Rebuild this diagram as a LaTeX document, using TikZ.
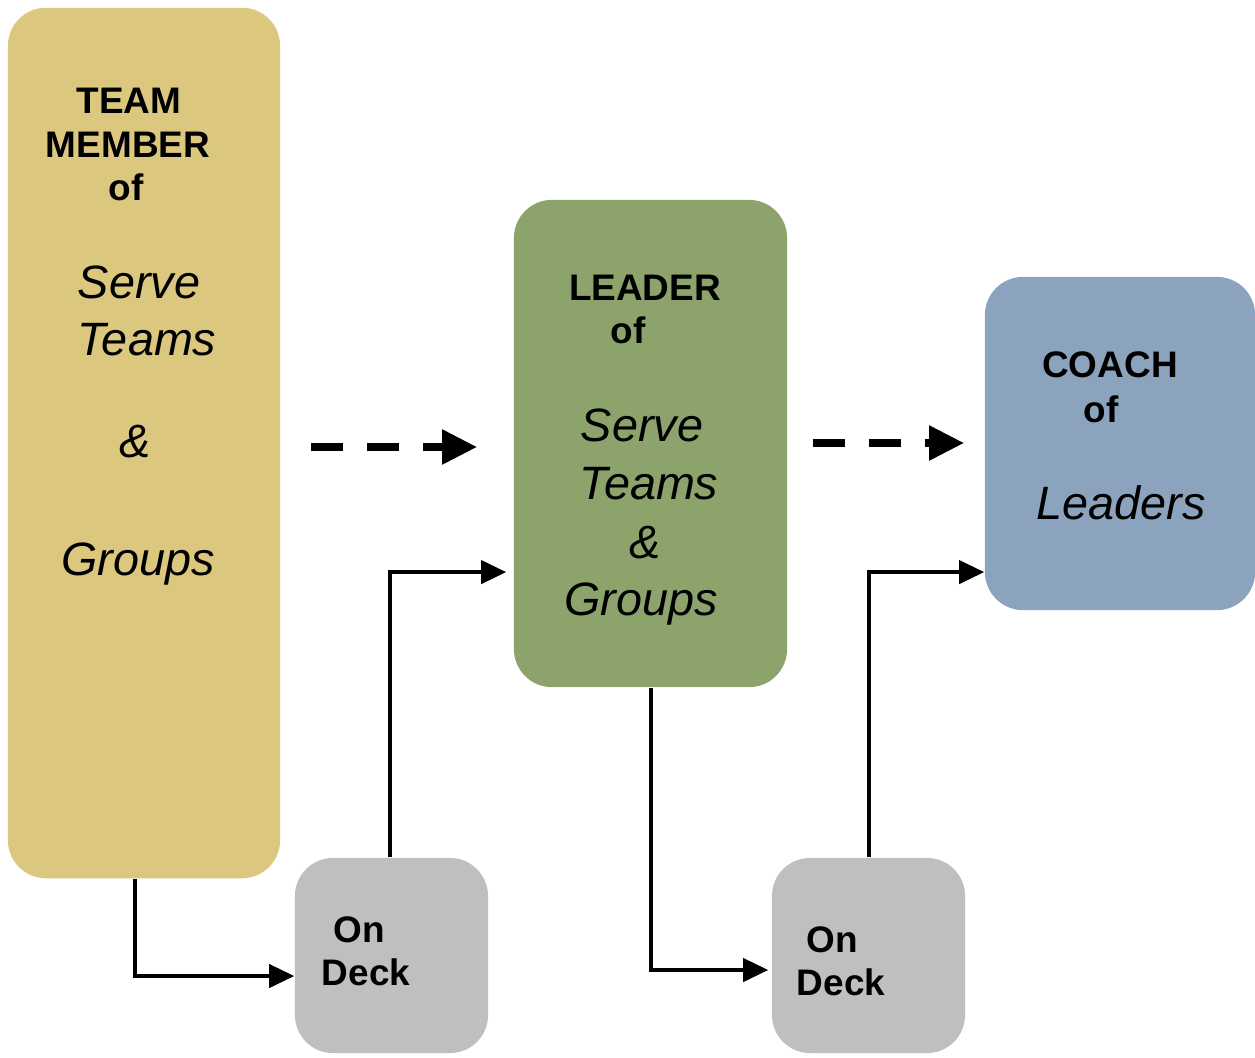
\documentclass[tikz,border=0pt]{standalone}
\usepackage{fontspec}
\setmainfont{Liberation Sans}
\usepackage{tikz}
\usetikzlibrary{arrows.meta}
\definecolor{goldbox}{RGB}{219,199,126}
\definecolor{greenbox}{RGB}{141,163,108}
\definecolor{bluebox}{RGB}{139,163,189}
\definecolor{greybox}{RGB}{191,191,191}

\begin{document}
\begin{tikzpicture}[x=0.01cm,y=-0.01cm,
			box/.style={shape=rectangle, rounded corners=0.38cm, inner sep=0pt},
			hd/.style={inner sep=0pt, anchor=base, font=\fontsize{10.5}{12}\selectfont\bfseries},
			it/.style={inner sep=0pt, anchor=base, font=\fontsize{13.3}{16}\selectfont\itshape},
			conn/.style={line width=0.04cm, -{Triangle[length=0.25cm,width=0.23cm]}},
			dasharr/.style={line width=0.08cm, dash pattern=on 0.32cm off 0.24cm, -{Triangle[length=0.35cm,width=0.33cm]}}]
				\useasboundingbox (0,0) rectangle (1255,1057);

				% the five boxes
				\node[box, fill=goldbox, minimum width=2.72cm, minimum height=8.7cm] (member) at (144,443) {};
				\node[box, fill=greenbox, minimum width=2.73cm, minimum height=4.87cm] (leader) at (650.5,443.5) {};
				\node[box, fill=bluebox, minimum width=2.7cm, minimum height=3.33cm] (coach) at (1120,443.5) {};
				\node[box, fill=greybox, minimum width=1.93cm, minimum height=1.95cm] (deckA) at (391.5,955.5) {};
				\node[box, fill=greybox, minimum width=1.93cm, minimum height=1.95cm] (deckB) at (868.5,955.5) {};

				\node[hd] (memberT1) at (129,113) {TEAM};
				\node[hd] (memberT2) at (128,157) {MEMBER};
				\node[hd] (memberT3) at (126,200) {of};
				\node[it] (memberS1) at (139,298) {Serve};
				\node[it] (memberS2) at (147,355) {Teams};
				\node[it] (memberS3) at (135,457) {\&};
				\node[it] (memberS4) at (138,575) {Groups};

				\node[hd] (leaderT1) at (645,300) {LEADER};
				\node[hd] (leaderT2) at (628,343) {of};
				\node[it] (leaderS1) at (642,441) {Serve};
				\node[it] (leaderS2) at (649,499) {Teams};
				\node[it] (leaderS3) at (645,558) {\&};
				\node[it] (leaderS4) at (641,615) {Groups};

				\node[hd] (coachT1) at (1110,377) {COACH};
				\node[hd] (coachT2) at (1101,422) {of};
				\node[it] (coachS1) at (1121,519) {Leaders};

				\node[hd] (deckA1) at (359,942) {On};
				\node[hd] (deckA2) at (366,985) {Deck};
				\node[hd] (deckB1) at (832,952) {On};
				\node[hd] (deckB2) at (841,995) {Deck};

				% dashed steps
				\coordinate (stepA) at ([xshift=0.30cm]member.east |- 0,447);
				\coordinate (stepB) at ([xshift=-0.36cm]leader.west |- 0,447);
				\coordinate (stepC) at ([xshift=0.25cm]leader.east |- 0,443);
				\coordinate (stepD) at ([xshift=-0.2cm]coach.west |- 0,443);
				\draw[dasharr] (stepA) -- (stepB);
				\draw[dasharr] (stepC) -- (stepD);

				% on deck routes
				\draw[conn] ([xshift=-0.09cm]member.south) |- ([yshift=-0.205cm]deckA.west);
				\draw[conn, shorten >=0.07cm] ([xshift=-0.015cm]deckA.north) |- ([yshift=-1.285cm]leader.west);
				\draw[conn, shorten >=0.03cm] (leader.south) |- ([yshift=-0.145cm]deckB.west);
				\draw[conn] (deckB.north) |- ([yshift=-1.285cm]coach.west);
		\end{tikzpicture}
\end{document}
